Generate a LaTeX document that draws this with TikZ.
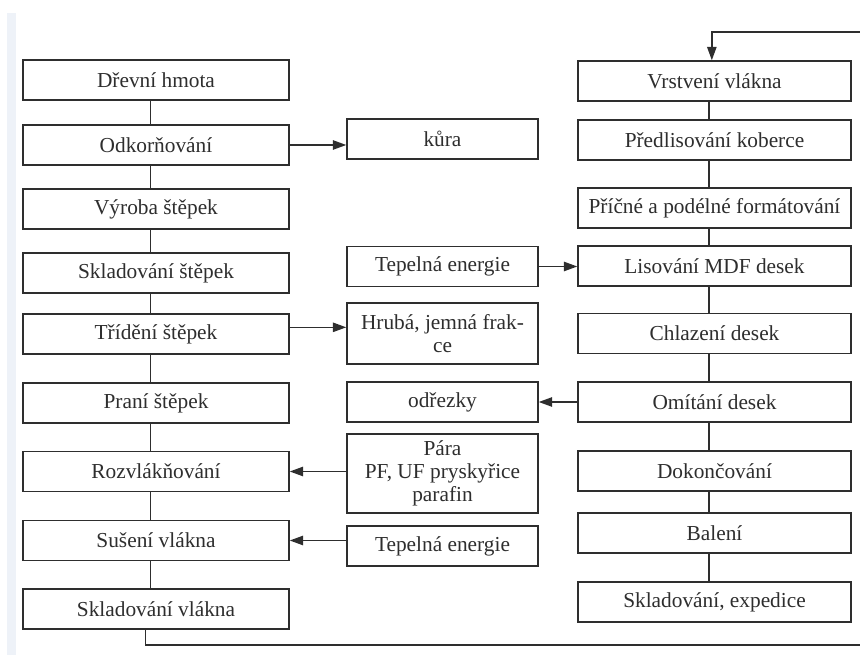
\documentclass[tikz,border=0pt]{standalone}
\usepackage{fontspec}
\setmainfont{Liberation Serif}
\usetikzlibrary{arrows.meta}
\definecolor{ink}{HTML}{2E2E2E}
\definecolor{edge}{HTML}{EEF2F8}
\begin{document}
\begin{tikzpicture}[x=0.75pt,y=-0.75pt,
  box/.style={draw=ink, line width=1.1pt, fill=white, text=ink,
    font=\fontsize{16}{17}\selectfont, minimum height=30pt, inner sep=0pt, align=center},
  lbox/.style={box, minimum width=199.5pt},
  mbox/.style={box, minimum width=143.25pt},
  rbox/.style={box, minimum width=204.75pt},
  link/.style={draw=ink, line width=1.1pt},
  arr/.style={link, -{Triangle[length=10pt,width=7pt]}}]
\useasboundingbox (0,0) rectangle (860,655);
\fill[edge] (7,13) rectangle (16,655);
% left column
\node[lbox] (dh)  at (156,80)    {Dřevní hmota};
\node[lbox] (odk) at (156,145)   {Odkorňování};
\node[lbox] (vyr) at (156,209)   {Výroba štěpek};
\node[lbox] (skl) at (156,273)   {Skladování štěpek};
\node[lbox] (tri) at (156,334)   {Třídění štěpek};
\node[lbox] (pra) at (156,403)   {Praní štěpek};
\node[lbox] (roz) at (156,471.5) {Rozvlákňování};
\node[lbox] (sus) at (156,540.5) {Sušení vlákna};
\node[lbox] (skv) at (156,609)   {Skladování vlákna};
% middle column
\node[mbox] (kur)  at (442.5,139)   {kůra};
\node[mbox] (tep1) at (442.5,266.5) {Tepelná energie};
\node[mbox, minimum height=45.75pt] (hru) at (442.5,333.5) {Hrubá, jemná frak-\\ce};
\node[mbox, minimum height=59.25pt] (par) at (442.5,473.5) {Pára\\PF, UF pryskyřice\\parafin};
\node[mbox] (odr)  at (442.5,402)   {odřezky};
\node[mbox] (tep2) at (442.5,546)   {Tepelná energie};
% right column
\node[rbox] (vrs) at (714.5,81)    {Vrstvení vlákna};
\node[rbox] (pre) at (714.5,140)   {Předlisování koberce};
\node[rbox] (pri) at (714.5,208)   {Příčné a podélné formátování};
\node[rbox] (lis) at (714.5,266)   {Lisování MDF desek};
\node[rbox] (chl) at (714.5,333.5) {Chlazení desek};
\node[rbox] (omi) at (714.5,402)   {Omítání desek};
\node[rbox] (dok) at (714.5,471)   {Dokončování};
\node[rbox] (bal) at (714.5,533)   {Balení};
\node[rbox] (exp) at (714.5,602)   {Skladování, expedice};
% vertical links
\foreach \a/\b in {dh/odk,odk/vyr,vyr/skl,skl/tri,tri/pra,pra/roz,roz/sus,sus/skv,
                   vrs/pre,pre/pri,pri/lis,lis/chl,chl/omi,omi/dok,dok/bal,bal/exp}
  \draw[link] ([xshift=-4pt]\a.south) -- ([xshift=-4pt]\b.north);
% horizontal arrows
\draw[arr] (odk.east) -- (odk.east -| kur.west);
\draw[arr] ([yshift=5pt]tri.east) -- ([yshift=5pt]tri.east -| hru.west);
\draw[arr] (tep1.east) -- (tep1.east -| lis.west);
\draw[arr] (omi.west) -- (omi.west -| odr.east);
\draw[arr] (roz.east -| par.west) -- (roz.east);
\draw[arr] (sus.east -| tep2.west) -- (sus.east);
% loop back
\coordinate (r1) at (861,645);
\coordinate (r2) at (861,32);
\draw[arr] ([xshift=-8pt]skv.south) |- (r1) -- (r2) -| ([xshift=-2pt]vrs.north);
\end{tikzpicture}
\end{document}
